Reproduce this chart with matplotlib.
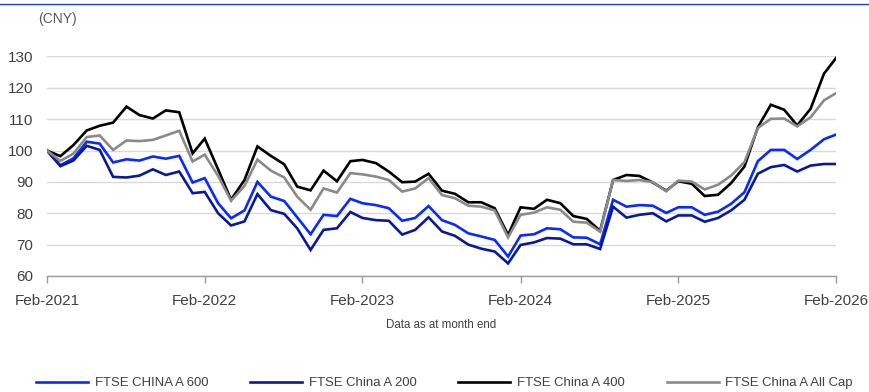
import pandas as pd
import matplotlib
matplotlib.use('Agg')
import matplotlib.pyplot as plt
import matplotlib.dates as mdates
from matplotlib.lines import Line2D

plt.rcParams['font.family'] = ['Liberation Sans', 'DejaVu Sans']

# Month-end index values, Feb-2021 = 100
months = pd.date_range('2021-02-28', periods=61, freq='ME')

ftse_600 = [100, 95.3, 97.5, 102.8, 102.2, 96.2, 97.2, 96.8, 98.1, 97.4, 98.3, 89.8, 91.2,
            83.2, 78.4, 80.9, 90, 85.3, 83.9, 78.7, 73.3, 79.5, 79.1, 84.6, 83.2,
            82.6, 81.6, 77.6, 78.5, 82.3, 77.8, 76.3, 73.6, 72.6, 71.5, 66.2, 72.9,
            73.3, 75.2, 74.9, 72.3, 72.2, 70.1, 84.3, 82.1, 82.6, 82.4, 80.1, 81.9,
            81.9, 79.5, 80.5, 83, 86.7, 96.6, 100.2, 100.2, 97.3, 100.2, 103.6, 105.1]

ftse_200 = [100, 95, 96.8, 101.5, 100.2, 91.6, 91.4, 92, 94, 92.2, 93.3, 86.4, 86.8,
            80, 76.1, 77.4, 86.1, 81, 79.8, 75.2, 68.3, 74.7, 75.2, 80.4, 78.5,
            77.8, 77.6, 73.2, 74.7, 78.7, 74.2, 72.8, 70, 68.7, 67.8, 64, 69.9,
            70.7, 72.1, 71.9, 70.1, 70.1, 68.6, 82.1, 78.6, 79.5, 80, 77.4, 79.3,
            79.3, 77.3, 78.5, 80.9, 84.3, 92.6, 94.7, 95.4, 93.3, 95.2, 95.7, 95.7]

ftse_400 = [100, 98.2, 101.7, 106.4, 107.9, 108.9, 114, 111.3, 110.2, 112.8, 112.2, 99.1, 103.8,
            94, 84.3, 90.6, 101.3, 98.3, 95.6, 88.5, 87.3, 93.6, 90.2, 96.6, 97,
            96, 93.3, 89.9, 90.1, 92.6, 87.2, 86.2, 83.5, 83.5, 81.6, 73.1, 81.9,
            81.4, 84.3, 83.2, 79.1, 78.2, 74.4, 90.6, 92.2, 91.9, 89.8, 87.2, 90.2,
            89.4, 85.5, 85.9, 89.6, 94.9, 107.4, 114.6, 113, 108, 113.3, 124.5, 129.5]

ftse_all_cap = [100, 96.7, 99, 104.3, 104.8, 100.2, 103.2, 103, 103.4, 104.8, 106.3, 96.5, 98.7,
                91.9, 84, 88.7, 97.1, 93.6, 91.4, 85.3, 81.1, 87.9, 86.6, 92.8, 92.4,
                91.7, 90.6, 86.9, 87.9, 91.2, 85.8, 84.8, 82.4, 82.1, 80.9, 72.3, 79.5,
                80.2, 81.9, 81.1, 77.3, 77, 74.1, 90.6, 90.3, 90.6, 89.9, 87, 90.4,
                90.1, 87.6, 89.1, 92, 96.3, 107.2, 110.1, 110.2, 107.7, 110.6, 116, 118.3]

series = [
    ('FTSE CHINA A 600', ftse_600, '#0a2bff'),
    ('FTSE China A 200', ftse_200, '#0a1a94'),
    ('FTSE China A 400', ftse_400, '#000000'),
    ('FTSE China A All Cap', ftse_all_cap, '#8a8a8a'),
]

fig = plt.figure(figsize=(8.7, 3.92), dpi=100)
ax = fig.add_axes([0.054, 0.296, 0.907, 0.56])

for name, vals, col in series:
    ax.plot(months, vals, color=col, lw=1.9, label=name, solid_joinstyle='miter')

ax.set_xlim(months[0], months[-1])
ax.set_ylim(60, 130)
ax.set_yticks(range(60, 131, 10))
ax.yaxis.grid(True, color='#d9d9d9', lw=1.0)
ax.set_axisbelow(True)

xt = [months[i] for i in range(0, 61, 12)]
ax.set_xticks(xt)
ax.xaxis.set_major_formatter(mdates.DateFormatter('%b-%Y'))

for s in ['top', 'right', 'left']:
    ax.spines[s].set_visible(False)
ax.spines['bottom'].set_color('#9a9a9a')
ax.spines['bottom'].set_linewidth(1.0)
ax.tick_params(axis='y', length=0, pad=10, labelsize=11, labelcolor='#404040')
ax.tick_params(axis='x', length=5, width=1, color='#9a9a9a', pad=8, labelsize=11,
               labelcolor='#404040', direction='out')

fig.text(38 / 870, 1 - 19 / 392, '(CNY)', fontsize=10, color='#595959', va='center', ha='left')
fig.text(441 / 870, 1 - 325 / 392, 'Data as at month end', fontsize=8.3, color='#404040',
         ha='center', va='center')

# thin blue rule across the top
fig.add_artist(Line2D([0, 1], [1 - 4 / 392, 1 - 4 / 392], color='#1a3cff', lw=1.0))

fig.legend(loc='center left', bbox_to_anchor=(36 / 870, 1 - 383 / 392), ncol=4, frameon=False,
           fontsize=9.45, handlelength=3.96, handletextpad=0.5, columnspacing=3.2,
           borderaxespad=0, borderpad=0, labelcolor='#404040')

fig.savefig('out.png', dpi=100)
